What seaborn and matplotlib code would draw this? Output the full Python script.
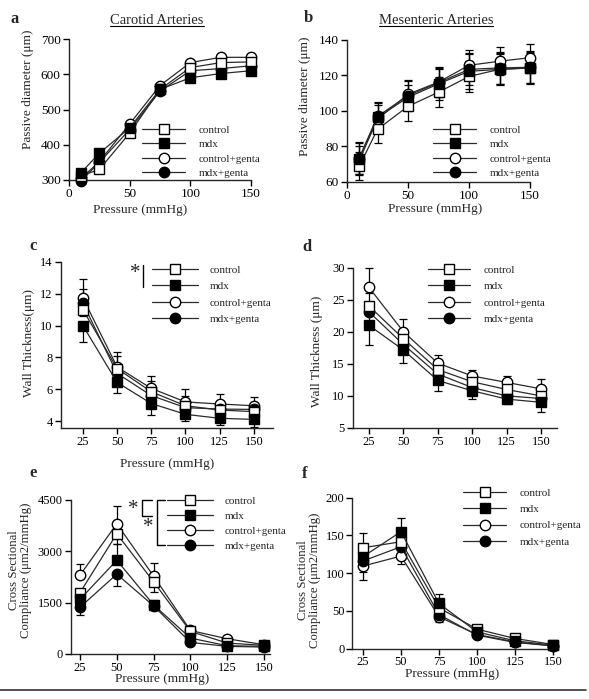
import numpy as np
import pandas as pd
import matplotlib
matplotlib.use("Agg")
import matplotlib.pyplot as plt
from matplotlib.lines import Line2D
import seaborn as sns

sns.set_style("ticks")
plt.rcParams['font.family'] = ['Liberation Serif', 'DejaVu Serif']
plt.rcParams['axes.linewidth'] = 1.0

W, H = 589, 699

groups = ["control", "mdx", "control+genta", "mdx+genta"]

# ---- Panel a: Carotid passive diameter ----
pressure_ab = [10, 25, 50, 75, 100, 125, 150]
a_control = [312, 330, 433, 557, 619, 633, 635]
a_mdx = [321, 376, 448, 557, 590, 602, 610]
a_cg = [305, 352, 459, 568, 633, 648, 648]
a_mg = [298, 350, 443, 552, 610, 616, 624]

# ---- Panel b: Mesenteric passive diameter ----
b_control = [68.6, 89.5, 102.5, 110.5, 119.4, 123.4, 124.2]
b_mdx = [72.8, 96.2, 107.6, 115.2, 122.3, 123.4, 124.2]
b_cg = [72.0, 95.2, 109.3, 116.2, 125.7, 128.0, 130.0]
b_mg = [73.3, 96.8, 108.6, 115.8, 123.4, 124.2, 124.6]
b_err_control = [8, 8, 8.5, 8.5, 9, 8.5, 8.5]
b_err_mdx = [9, 8, 7, 9, 10, 9, 9]
b_err_cg = [8, 8, 8, 8.5, 8.5, 8, 8]
b_err_mg = [9, 8, 8.5, 8, 9, 9, 9]

# ---- Panel c: Carotid wall thickness ----
pressure_cf = [25, 50, 75, 100, 125, 150]
c_control = [11.0, 7.3, 5.84, 4.96, 4.69, 4.59]
c_mdx = [10.0, 6.43, 5.1, 4.42, 4.17, 4.1]
c_cg = [11.74, 7.4, 6.05, 5.2, 5.07, 4.96]
c_mg = [11.4, 7.0, 5.6, 4.84, 4.75, 4.73]
c_err_control = [1.3, 0.8, 0.7, 0.6, 0.5, 0.5]
c_err_mdx = [1.0, 0.7, 0.7, 0.45, 0.45, 0.5]
c_err_cg = [1.2, 0.95, 0.75, 0.8, 0.6, 0.55]
c_err_mg = [0.8, 0.6, 0.5, 0.4, 0.4, 0.4]

# ---- Panel d: Mesenteric wall thickness ----
d_control = [24.0, 18.9, 14.1, 12.2, 11.0, 10.0]
d_mdx = [21.0, 17.15, 12.4, 10.8, 9.5, 9.0]
d_cg = [26.9, 20.0, 15.1, 13.1, 12.1, 11.1]
d_mg = [23.1, 18.0, 13.4, 11.3, 10.0, 9.6]
d_err_control = [2.0, 1.5, 1.0, 0.9, 0.8, 1.0]
d_err_mdx = [3.0, 2.0, 1.6, 1.3, 0.8, 1.5]
d_err_cg = [3.1, 2.0, 1.3, 1.0, 1.0, 1.5]
d_err_mg = [2.0, 1.5, 1.2, 1.0, 0.8, 1.0]

# ---- Panel e: Carotid cross sectional compliance ----
e_control = [1791, 3514, 2110, 658, 320, 252]
e_mdx = [1597, 2740, 1433, 465, 242, 223]
e_cg = [2304, 3804, 2275, 687, 445, 271]
e_mg = [1365, 2333, 1404, 339, 223, 203]
e_err_control = [250, 300, 290, 80, 50, 40]
e_err_mdx = [250, 480, 150, 80, 50, 40]
e_err_cg = [340, 530, 390, 100, 60, 40]
e_err_mg = [220, 350, 120, 80, 50, 40]

# ---- Panel f: Mesenteric cross sectional compliance ----
f_control = [133.6, 141.6, 54.0, 25.7, 13.3, 5.3]
f_mdx = [121.7, 154.9, 59.7, 22.0, 10.2, 4.4]
f_cg = [109.3, 122.6, 42.0, 18.6, 8.8, 3.5]
f_mg = [116.0, 135.0, 45.0, 17.7, 8.0, 3.5]
f_err_control = [20, 10, 10, 4, 3, 2]
f_err_mdx = [15, 18, 13, 4, 3, 2]
f_err_cg = [18, 10, 7.5, 3, 2, 2]
f_err_mg = [15, 10, 7, 3, 2, 2]

style = {
    "control": ("s", "white"),
    "mdx": ("s", "black"),
    "control+genta": ("o", "white"),
    "mdx+genta": ("o", "black"),
}

fig = plt.figure(figsize=(W / 100, H / 100), dpi=100)


def fx(px):
    return px / W


def fy(py):
    return 1 - py / H


def make_ax(left, right, top, bottom):
    return fig.add_axes([fx(left), fy(bottom), (right - left) / W, (bottom - top) / H])


def draw(ax, x, series, errs=None, dirs=None, ls=9.5, pad=2):
    handles = {}
    order = ["control+genta", "mdx+genta", "control", "mdx"]
    data = dict(zip(groups, series))
    if errs is not None:
        for g, e, d in zip(groups, errs, dirs):
            e = np.asarray(e, float)
            lo = e if d in ("down", "both") else np.zeros_like(e)
            hi = e if d in ("up", "both") else np.zeros_like(e)
            ax.errorbar(x, data[g], yerr=[lo, hi], fmt='none', ecolor='black',
                        elinewidth=0.9, capsize=2.6, capthick=0.9, zorder=2, clip_on=False)
    for g in order:
        m, fc = style[g]
        sns.lineplot(x=x, y=data[g], ax=ax, color='#2a2a2a', lw=0.9, marker=m,
                     markersize=7.5, markerfacecolor=fc, markeredgecolor='black',
                     markeredgewidth=1.0, clip_on=False, zorder=3,
                     estimator=None, sort=False, errorbar=None)
        handles[g] = ax.lines[-1]
    sns.despine(ax=ax)
    ax.tick_params(direction='out', length=4, width=1.0, labelsize=ls, pad=pad, colors='black')
    return [handles[g] for g in groups]


def legend(ax, hs, left, top, fs=8, spacing=0.42, hl=3.9, tp=1.2):
    ax.legend(hs, groups, loc='upper left', bbox_to_anchor=(fx(left), fy(top)),
              bbox_transform=fig.transFigure, frameon=False, fontsize=fs,
              handlelength=hl, handletextpad=tp, labelspacing=spacing,
              borderpad=0, borderaxespad=0, numpoints=1)


def ylab(ax, text, cx, cy, fs=9.5):
    ax.set_ylabel(text, fontsize=fs, linespacing=1.0)
    ax.yaxis.set_label_coords(fx(cx), fy(cy), transform=fig.transFigure)
    ax.yaxis.label.set_va('center')


def xlab(ax, text, cx, cy, fs=9.5):
    ax.set_xlabel(text, fontsize=fs)
    ax.xaxis.set_label_coords(fx(cx), fy(cy), transform=fig.transFigure)
    ax.xaxis.label.set_va('center')


# Panel a
ax_a = make_ax(69, 251, 39, 180)
hs = draw(ax_a, pressure_ab, [a_control, a_mdx, a_cg, a_mg])
ax_a.set_xlim(0, 150); ax_a.set_ylim(300, 700)
ax_a.set_xticks([0, 50, 100, 150]); ax_a.set_yticks([300, 400, 500, 600, 700])
ylab(ax_a, "Passive diameter (μm)", 28, 89)
xlab(ax_a, "Pressure (mmHg)", 140, 210)
legend(ax_a, hs, 142, 125)

# Panel b
ax_b = make_ax(347, 530, 40, 181.5)
hs = draw(ax_b, pressure_ab, [b_control, b_mdx, b_cg, b_mg],
          [b_err_control, b_err_mdx, b_err_cg, b_err_mg], ["both"] * 4)
ax_b.set_xlim(0, 150); ax_b.set_ylim(60, 140)
ax_b.set_xticks([0, 50, 100, 150]); ax_b.set_yticks([60, 80, 100, 120, 140])
ylab(ax_b, "Passive diameter (μm)", 305, 96)
xlab(ax_b, "Pressure (mmHg)", 435, 209)
legend(ax_b, hs, 433, 125)

# Panel c
ax_c = make_ax(61, 273, 262, 428)
hs = draw(ax_c, pressure_cf, [c_control, c_mdx, c_cg, c_mg],
          [c_err_control, c_err_mdx, c_err_cg, c_err_mg], ["up", "down", "up", "down"], ls=9)
ax_c.set_xlim(9, 164); ax_c.set_ylim(3.56, 14)
ax_c.set_xticks(pressure_cf); ax_c.set_yticks([4, 6, 8, 10, 12, 14])
ylab(ax_c, "Wall Thickness(μm)", 29, 343)
xlab(ax_c, "Pressure (mmHg)", 167, 464)
legend(ax_c, hs, 152, 265, spacing=0.6, hl=4.1, tp=1.1)

# Panel d
ax_d = make_ax(353, 557, 267.5, 428)
hs = draw(ax_d, pressure_cf, [d_control, d_mdx, d_cg, d_mg],
          [d_err_control, d_err_mdx, d_err_cg, d_err_mg], ["up", "down", "up", "down"], ls=9)
ax_d.set_xlim(13.4, 161.6); ax_d.set_ylim(5, 30)
ax_d.set_xticks(pressure_cf); ax_d.set_yticks([5, 10, 15, 20, 25, 30])
ylab(ax_d, "Wall Thickness (μm)", 317, 351)
legend(ax_d, hs, 428, 265, spacing=0.6, hl=3.8, tp=1.2)

# Panel e
ax_e = make_ax(71, 270, 500, 654)
hs = draw(ax_e, pressure_cf, [e_control, e_mdx, e_cg, e_mg],
          [e_err_control, e_err_mdx, e_err_cg, e_err_mg], ["down", "up", "up", "down"], ls=9)
ax_e.set_xlim(18.9, 154); ax_e.set_ylim(0, 4500)
ax_e.set_xticks(pressure_cf); ax_e.set_yticks([0, 1500, 3000, 4500])
ylab(ax_e, "Cross Sectional\nCompliance (μm2/mmHg)", 20, 570, fs=9.2)
xlab(ax_e, "Pressure (mmHg)", 162, 679)
legend(ax_e, hs, 167, 496, spacing=0.47, hl=4.1, tp=1.1)

# Panel f
ax_f = make_ax(352, 558, 497.7, 648.5)
hs = draw(ax_f, pressure_cf, [f_control, f_mdx, f_cg, f_mg],
          [f_err_control, f_err_mdx, f_err_cg, f_err_mg], ["up", "up", "down", "down"], ls=9, pad=1.5)
ax_f.set_xlim(17.8, 153.3); ax_f.set_ylim(0, 200)
ax_f.set_xticks(pressure_cf); ax_f.set_yticks([0, 50, 100, 150, 200])
ylab(ax_f, "Cross Sectional\nCompliance (μm2/mmHg)", 309, 580, fs=9.2)
xlab(ax_f, "Pressure (mmHg)", 452, 674)
legend(ax_f, hs, 463, 488, spacing=0.59, hl=3.9, tp=1.2)

# Panel letters
for lt, (px, py) in zip("abcdef", [(15, 19), (308, 18), (33, 246), (307, 247), (33, 473), (305, 474)]):
    fig.text(fx(px), fy(py), lt, fontsize=12, fontweight='bold', ha='center', va='center')

# Titles with underline
titles = []
for txt, cx in [("Carotid Arteries", 157), ("Mesenteric Arteries", 436)]:
    titles.append(fig.text(fx(cx), fy(20), txt, fontsize=10.5, ha='center', va='center'))

# Significance marks
fig.text(fx(135), fy(273), "*", fontsize=15, ha='center', va='center')
fig.add_artist(Line2D([fx(143), fx(143)], [fy(265), fy(287)], color='black', lw=1))
fig.text(fx(133), fy(510), "*", fontsize=15, ha='center', va='center')
fig.add_artist(Line2D([fx(152), fx(142), fx(142), fx(152)], [fy(500), fy(500), fy(516), fy(516)], color='black', lw=1))
fig.text(fx(148), fy(527), "*", fontsize=15, ha='center', va='center')
fig.add_artist(Line2D([fx(165), fx(157), fx(157), fx(165)], [fy(500), fy(500), fy(545), fy(545)], color='black', lw=1))

# bottom rule
fig.add_artist(Line2D([0.0, 0.995], [fy(690), fy(690)], color='#333333', lw=1.2))

fig.canvas.draw()
r = fig.canvas.get_renderer()
for t in titles:
    bb = t.get_window_extent(r).transformed(fig.transFigure.inverted())
    fig.add_artist(Line2D([bb.x0, bb.x1], [bb.y0 + 0.001, bb.y0 + 0.001], color='black', lw=0.8))

fig.savefig("out.png", dpi=100)
